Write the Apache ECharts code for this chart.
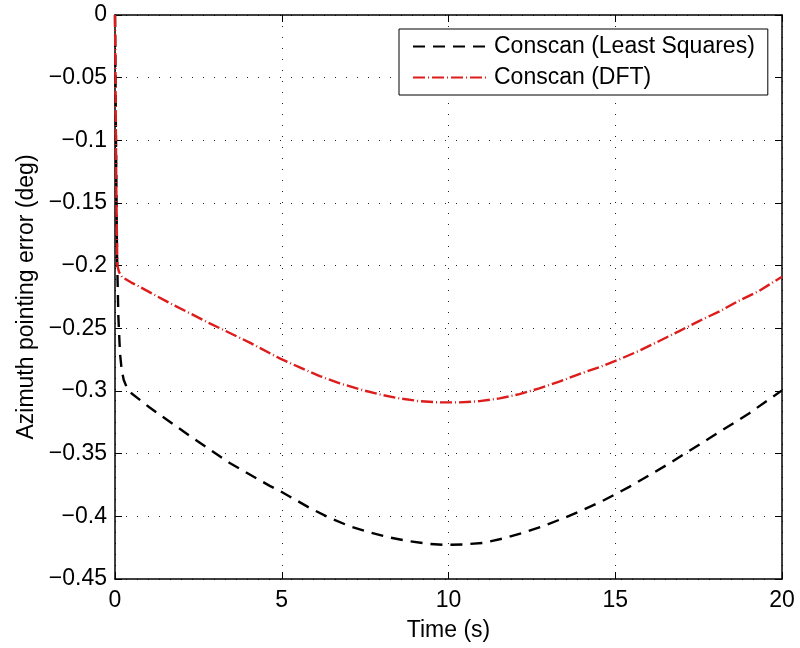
<!DOCTYPE html>
<html>
<head>
<meta charset="utf-8">
<script src="https://cdn.jsdelivr.net/npm/echarts@6/dist/echarts.min.js"></script>
<style>
  html, body { margin: 0; padding: 0; background: #fff; }
  #chart { width: 800px; height: 648px; }
</style>
</head>
<body>
<div id="chart"></div>
<script>
// Azimuth pointing error over time for two conscan estimators
const lsTime = [0, 0.03, 0.06, 0.1, 0.15, 0.2, 0.26, 0.35, 0.5, 1.05, 2.25, 3.44, 4.64, 4.94, 5.84, 6.44, 7.04, 7.63, 8.23, 8.83, 9.43, 9.93, 10.43, 11.03, 11.63, 12.22, 12.82, 13.42, 14.02, 14.62, 15.42, 16.02, 16.62, 17.22, 17.81, 18.41, 19.01, 19.61, 20];
const lsError = [0, -0.1, -0.19, -0.24, -0.27, -0.283, -0.291, -0.297, -0.302, -0.3134, -0.336, -0.3575, -0.3757, -0.3797, -0.3933, -0.4013, -0.4079, -0.4127, -0.4169, -0.4199, -0.422, -0.4228, -0.4225, -0.4212, -0.4177, -0.4132, -0.4079, -0.4018, -0.3951, -0.3877, -0.3765, -0.3672, -0.3578, -0.3478, -0.3379, -0.328, -0.3179, -0.3067, -0.2995];

const dftTime = [0, 0.02, 0.04, 0.07, 0.12, 0.21, 0.49, 0.75, 1.65, 2.84, 4.04, 4.94, 5.54, 6.14, 6.74, 7.34, 7.93, 8.53, 9.13, 9.73, 10.33, 10.93, 11.53, 12.13, 12.72, 13.32, 13.92, 14.52, 15.12, 15.72, 16.32, 16.92, 17.51, 18.11, 18.71, 19.31, 20];
const dftError = [0, -0.07, -0.14, -0.2, -0.205, -0.209, -0.2135, -0.217, -0.23, -0.246, -0.2614, -0.274, -0.2812, -0.2881, -0.2939, -0.2987, -0.3027, -0.3059, -0.3081, -0.3091, -0.3091, -0.3081, -0.3059, -0.3025, -0.2979, -0.2926, -0.2865, -0.281, -0.2748, -0.2679, -0.2601, -0.2522, -0.2442, -0.2367, -0.228, -0.2202, -0.2088];

const seriesNames = ['Conscan (Least Squares)', 'Conscan (DFT)'];
const xTickLabels = ['0', '5', '10', '15', '20'];
const yTickLabels = ['\u22120.45', '\u22120.4', '\u22120.35', '\u22120.3', '\u22120.25', '\u22120.2', '\u22120.15', '\u22120.1', '\u22120.05', '0'];

const FONT = 'Liberation Sans, Arial, Helvetica, sans-serif';
const zip = (a, b) => a.map((t, i) => [t, b[i]]);

const yMin = -0.45, yMax = 0, yStep = 0.05;
const xMin = 0, xMax = 20, xStep = 5;
const yLabel = v => yTickLabels[Math.round((v - yMin) / yStep)] ?? '';
const xLabel = v => xTickLabels[Math.round((v - xMin) / xStep)] ?? '';

const dotted = { show: true, lineStyle: { color: '#222', width: 1, type: [1, 10] } };
const axisLine = { show: true, onZero: false, lineStyle: { color: '#000', width: 1.5 } };
const innerTick = { show: true, inside: true, length: 7, lineStyle: { color: '#000', width: 1 } };

const chart = echarts.init(document.getElementById('chart'), null, { renderer: 'canvas' });
chart.setOption({
  animation: false,
  backgroundColor: '#fff',
  textStyle: { fontFamily: FONT },
  grid: { left: 115, top: 15, width: 667, height: 564, containLabel: false },
  legend: {
    orient: 'vertical',
    left: 399,
    top: 29,
    padding: [4, 13, 4, 13],
    itemGap: 4,
    itemWidth: 74,
    itemHeight: 14,
    borderColor: '#000',
    borderWidth: 1,
    backgroundColor: '#fff',
    itemStyle: { opacity: 0 },
    textStyle: { fontSize: 23, color: '#000', fontFamily: FONT, lineHeight: 27, padding: [0, 0, 0, 2] },
    data: seriesNames
  },
  xAxis: [{
    type: 'value', min: xMin, max: xMax, interval: xStep, position: 'bottom',
    name: 'Time (s)', nameLocation: 'middle', nameGap: 40,
    nameTextStyle: { fontSize: 23, color: '#000', fontFamily: FONT },
    axisLine, axisTick: innerTick,
    axisLabel: { fontSize: 23, color: '#000', margin: 10, fontFamily: FONT, formatter: xLabel },
    splitLine: dotted
  }, {
    type: 'value', min: xMin, max: xMax, interval: xStep, position: 'top',
    axisLine, axisTick: innerTick, axisLabel: { show: false }, splitLine: { show: false }
  }],
  yAxis: [{
    type: 'value', min: yMin, max: yMax, interval: yStep, position: 'left',
    name: 'Azimuth pointing error (deg)', nameLocation: 'middle', nameGap: 77, nameRotate: 90,
    nameTextStyle: { fontSize: 23, color: '#000', fontFamily: FONT },
    axisLine, axisTick: innerTick,
    axisLabel: { fontSize: 23, color: '#000', margin: 8, fontFamily: FONT, formatter: yLabel },
    splitLine: dotted
  }, {
    type: 'value', min: yMin, max: yMax, interval: yStep, position: 'right',
    axisLine, axisTick: innerTick, axisLabel: { show: false }, splitLine: { show: false }
  }],
  series: [{
    name: seriesNames[0],
    type: 'line',
    data: zip(lsTime, lsError),
    showSymbol: false,
    symbol: 'none',
    color: '#000',
    lineStyle: { color: '#000', width: 2.4, type: [12, 8] },
    z: 2
  }, {
    name: seriesNames[1],
    type: 'line',
    data: zip(dftTime, dftError),
    showSymbol: false,
    symbol: 'none',
    color: '#dd1c1c',
    lineStyle: { color: '#dd1c1c', width: 2.4, type: [12, 3, 1, 3] },
    z: 3
  }]
});
</script>
</body>
</html>
